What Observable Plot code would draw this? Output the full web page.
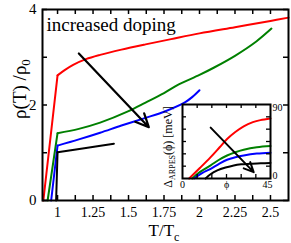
<!DOCTYPE html>
<html><head><meta charset="utf-8">
<script src="https://cdn.jsdelivr.net/npm/d3@7"></script>
<script src="https://cdn.jsdelivr.net/npm/@observablehq/plot@0.6"></script>
<style>
body{margin:0;background:#fff;}
#wrap{position:relative;width:291px;height:243px;overflow:hidden;}
#wrap svg{position:absolute;}
#wrap svg, #wrap svg text, #wrap svg tspan {font-family: "Liberation Serif", "Times New Roman", "DejaVu Serif", serif !important;}
</style></head><body><div id="wrap"></div>
<script>
// ---- series names / colours ----
const seriesNames = ["red", "green", "blue", "black"];
const seriesColors = ["#ff0000", "#00ee00", "#0000ff", "#000000"];

// ---- main panel: resistivity rho(T)/rho0 vs T/Tc ----
// superconducting drop (rise) segments
const redRiseT = [0.9, 1.0],   redRiseRho = [0, 2.62];
const greenRiseT = [0.93, 1.0], greenRiseRho = [0, 1.41];
const blueRiseT = [0.955, 1.0], blueRiseRho = [0, 1.15];
const blackRiseT = [0.99, 1.0], blackRiseRho = [0, 1.01];
// normal-state curves
const redT   = [1.0, 1.05, 1.11, 1.2, 1.3, 1.45, 1.62, 1.8, 2.0, 2.25, 2.5, 2.627];
const redRho = [2.62, 2.73, 2.84, 2.96, 3.05, 3.16, 3.27, 3.38, 3.5, 3.63, 3.76, 3.83];
const greenT   = [1.0, 1.15, 1.3, 1.5, 1.62, 1.75, 1.854, 2.0, 2.1, 2.25, 2.4, 2.507];
const greenRho = [1.41, 1.5, 1.63, 1.87, 2.05, 2.25, 2.43, 2.63, 2.78, 3.03, 3.33, 3.6];
const blueT   = [1.0, 1.15, 1.3, 1.45, 1.62, 1.76, 1.9, 1.95, 2.0];
const blueRho = [1.15, 1.28, 1.42, 1.57, 1.73, 1.87, 2.06, 2.17, 2.31];
const blackT   = [1.0, 1.2, 1.397];
const blackRho = [1.01, 1.1, 1.19];
// arrow "increased doping"
const mainArrowT = [1.15, 1.643];
const mainArrowRho = [3.08, 1.535];
// ticks
const xTickLabels = [1, 1.25, 1.5, 1.75, 2, 2.25, 2.5];
const xTickMarks = [1, 1.125, 1.25, 1.375, 1.5, 1.625, 1.75, 1.875, 2, 2.125, 2.25, 2.375, 2.5];
const yTickLabels = [0, 2, 4];
const yTickMarks = [0, 1, 2, 3, 4];

// ---- inset: Delta_ARPES(phi) ----
const insRedPhi = [3.4, 9, 14.4, 19, 22.8, 27, 31.3, 36, 39.8, 45];
const insRedGap = [0, 13, 26, 38, 48, 56.5, 63.5, 68.5, 71, 73];
const insGreenPhi = [5, 9, 14.4, 18.5, 22.8, 27, 31.3, 38, 45];
const insGreenGap = [0, 8, 16, 22.5, 28, 32, 35, 38, 39.5];
const insBluePhi = [5.9, 10, 14.4, 18.5, 22.8, 27, 31.3, 38, 45];
const insBlueGap = [0, 6.5, 11.8, 17.5, 22.8, 25.8, 28, 30.3, 31.4];
const insBlackPhi = [11.8, 14.5, 17.8, 22, 26.2, 30, 34.7, 40, 45];
const insBlackGap = [0, 5.5, 9.8, 13.3, 15.9, 17.2, 17.9, 18.6, 19];
const insArrowPhi = [14.4, 36.4];
const insArrowGap = [61.9, 7.7];
const insXTickMarks = [7.5, 15, 22.5, 30, 37.5];
const insXTickLabelsLeft = [0, 22.5];
const insXTickLabelsRight = [45];
const insYTickLabelTop = [90];
const insYTickLabelBottom = [0];
const insYTickMarks = [15, 30, 45, 60, 75];

// ---- build tables ----
function rows(series, key, xs, ys) {
  return xs.map((x, i) => ({series, key, x, y: ys[i]}));
}
const mainRows = [
  ...rows("red", "red-rise", redRiseT, redRiseRho),
  ...rows("green", "green-rise", greenRiseT, greenRiseRho),
  ...rows("blue", "blue-rise", blueRiseT, blueRiseRho),
  ...rows("black", "black-rise", blackRiseT, blackRiseRho),
  ...rows("red", "red-n", redT, redRho),
  ...rows("green", "green-n", greenT, greenRho),
  ...rows("blue", "blue-n", blueT, blueRho),
  ...rows("black", "black-n", blackT, blackRho)
];
const insetRows = [
  ...rows("red", "r", insRedPhi, insRedGap),
  ...rows("green", "g", insGreenPhi, insGreenGap),
  ...rows("blue", "b", insBluePhi, insBlueGap),
  ...rows("black", "k", insBlackPhi, insBlackGap)
];

const W = 291, H = 243;
const mL = 42, mR = 3, mT = 9, mB = 43;
const iW = W - mL - mR, iH = H - mT - mB;
const tk = 5;

const main = Plot.plot({
  width: W, height: H,
  marginLeft: mL, marginRight: mR, marginTop: mT, marginBottom: mB,
  style: {background: "transparent", color: "black", overflow: "visible"},
  x: {domain: [0.894, 2.627], label: null},
  y: {domain: [0, 4], label: null},
  color: {type: "ordinal", domain: seriesNames, range: seriesColors},
  marks: [
    Plot.line(mainRows, {x: "x", y: "y", z: "key", stroke: "series", strokeWidth: 2, curve: "catmull-rom"}),
    Plot.arrow([0], {x1: () => mainArrowT[0], y1: () => mainArrowRho[0], x2: () => mainArrowT[1], y2: () => mainArrowRho[1], stroke: "black", strokeWidth: 2.2, headLength: 10, headAngle: 50}),
    Plot.tickX(xTickMarks, {x: d => d, insetTop: iH - tk, strokeWidth: 1.5}),
    Plot.tickX(xTickMarks, {x: d => d, insetBottom: iH - tk, strokeWidth: 1.5}),
    Plot.tickY(yTickMarks, {y: d => d, insetRight: iW - tk, strokeWidth: 1.5}),
    Plot.tickY(yTickMarks, {y: d => d, insetLeft: iW - tk, strokeWidth: 1.5}),
    Plot.axisX({ticks: xTickLabels, tickSize: 0, tickPadding: 7, label: null, fontSize: 14, tickFormat: d => String(d)}),
    Plot.axisY({ticks: yTickLabels, tickSize: 0, tickPadding: 6, label: null, fontSize: 15, tickFormat: d => String(d)}),
    Plot.frame({stroke: "black", strokeWidth: 2}),
    Plot.text(["increased doping"], {text: d => d, frameAnchor: "top-left", textAnchor: "start", lineAnchor: "middle", dx: 4, dy: 15, fontSize: 19})
  ]
});

const IW = 131, IH = 100;
const imL = 22, imR = 21, imT = 10, imB = 16;
const iiW = IW - imL - imR, iiH = IH - imT - imB;
const itk = 4;
const inset = Plot.plot({
  width: IW, height: IH,
  marginLeft: imL, marginRight: imR, marginTop: imT, marginBottom: imB,
  style: {background: "transparent", color: "black", overflow: "visible"},
  x: {domain: [0, 45], label: null},
  y: {domain: [0, 90], label: null},
  color: {type: "ordinal", domain: seriesNames, range: seriesColors},
  marks: [
    Plot.frame({fill: "white"}),
    Plot.line(insetRows, {x: "x", y: "y", z: "key", stroke: "series", strokeWidth: 2, curve: "catmull-rom"}),
    Plot.arrow([0], {x1: () => insArrowPhi[0], y1: () => insArrowGap[0], x2: () => insArrowPhi[1], y2: () => insArrowGap[1], stroke: "black", strokeWidth: 2, headLength: 8, headAngle: 50}),
    Plot.tickX(insXTickMarks, {x: d => d, insetTop: iiH - itk, strokeWidth: 1.3}),
    Plot.tickX(insXTickMarks, {x: d => d, insetBottom: iiH - itk, strokeWidth: 1.3}),
    Plot.tickY(insYTickMarks, {y: d => d, insetRight: iiW - itk, strokeWidth: 1.3}),
    Plot.tickY(insYTickMarks, {y: d => d, insetLeft: iiW - itk, strokeWidth: 1.3}),
    Plot.axisX({ticks: insXTickLabelsLeft, tickSize: 0, tickPadding: 2, label: null, fontSize: 10, tickFormat: d => d === 22.5 ? "ϕ" : String(d)}),
    Plot.axisX({ticks: insXTickLabelsRight, tickSize: 0, tickPadding: 2, dx: -3, label: null, fontSize: 10, tickFormat: d => String(d)}),
    Plot.axisY({ticks: insYTickLabelTop, anchor: "right", tickSize: 0, tickPadding: 2, dy: 3, label: null, fontSize: 10, tickFormat: d => String(d)}),
    Plot.axisY({ticks: insYTickLabelBottom, anchor: "right", tickSize: 0, tickPadding: 2, dy: -3, label: null, fontSize: 10, tickFormat: d => String(d)}),
    Plot.frame({stroke: "black", strokeWidth: 2})
  ]
});

const wrap = document.getElementById("wrap");
main.style.left = "0px"; main.style.top = "0px";
inset.style.left = "160px"; inset.style.top = "94px";
wrap.appendChild(main);
wrap.appendChild(inset);

// axis titles with subscripts
const ms = d3.select(main);
const yl = ms.append("text").attr("transform", "translate(26,89) rotate(-90)")
  .attr("text-anchor", "middle").attr("font-size", 19).attr("fill", "black");
yl.append("tspan").text("ρ(T) /ρ");
yl.append("tspan").attr("font-size", 13).attr("dy", 4).text("0");
const xl = ms.append("text").attr("x", 164).attr("y", 236)
  .attr("text-anchor", "middle").attr("font-size", 17).attr("fill", "black");
xl.append("tspan").text("T/T");
xl.append("tspan").attr("font-size", 12).attr("dy", 5).text("c");

const is = d3.select(inset);
const il = is.append("text").attr("transform", "translate(12,53) rotate(-90)")
  .attr("text-anchor", "middle").attr("font-size", 12).attr("fill", "black");
il.append("tspan").text("Δ");
il.append("tspan").attr("font-size", 8).attr("dy", 3).text("ARPES");
il.append("tspan").attr("dy", -3).text("(ϕ) [meV]");
</script></body></html>
